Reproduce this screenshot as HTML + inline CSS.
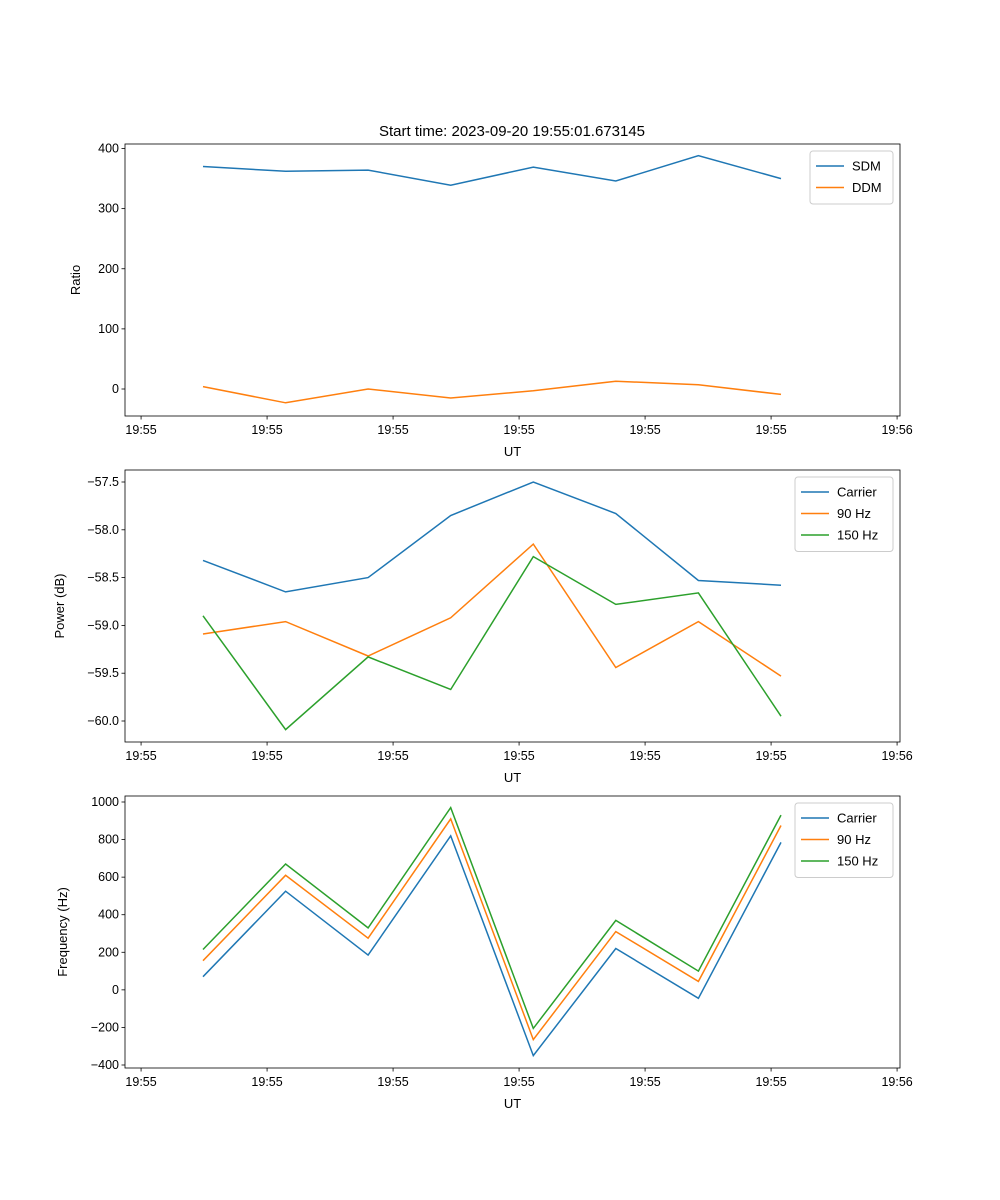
<!DOCTYPE html>
<html><head><meta charset="utf-8">
<style>
body{margin:0;background:#fff;}
svg{display:block;font-family:"Liberation Sans","DejaVu Sans",sans-serif;}
</style></head>
<body>
<svg id="fig" width="1000" height="1200" viewBox="0 0 1000 1200"></svg>
<script>
const timeIdx = [0,1,2,3,4,5,6,7];
const xTicks = [-0.75,0.776,2.302,3.828,5.354,6.88,8.406];
const xTickLabels = ["19:55","19:55","19:55","19:55","19:55","19:55","19:56"];
const sdm = [370,362,364,339,369,346,388,350];
const ddm = [4,-23,0,-15,-3,13,7,-9];
const ratioTicks = [0,100,200,300,400];
const pCarrier = [-58.32,-58.65,-58.50,-57.85,-57.50,-57.83,-58.53,-58.58];
const p90 = [-59.09,-58.96,-59.32,-58.92,-58.15,-59.44,-58.96,-59.53];
const p150 = [-58.90,-60.09,-59.33,-59.67,-58.28,-58.78,-58.66,-59.95];
const powerTicks = [-60.0,-59.5,-59.0,-58.5,-58.0,-57.5];
const fCarrier = [70,525,185,820,-350,220,-45,785];
const f90 = [155,610,275,910,-265,310,45,875];
const f150 = [215,670,330,970,-205,370,100,930];
const freqTicks = [-400,-200,0,200,400,600,800,1000];

const NS="http://www.w3.org/2000/svg";
const svg=document.getElementById('fig');
function mk(tag,attrs,parent){const e=document.createElementNS(NS,tag);for(const k in attrs)e.setAttribute(k,attrs[k]);(parent||svg).appendChild(e);return e;}
const L=125,R=900;
const xS=t=>203+t*82.57;
const C1="#1f77b4",C2="#ff7f0e",C3="#2ca02c";

function panel(name,top,bottom,v0,p0,v1,p1,ticks,fmt,ylabel,series,legend){
  const g=mk('g',{});
  
  
  const yS=v=>p0+(v-v0)*(p1-p0)/(v1-v0);
  series.forEach(s=>{
    const pts=s.vals.map((v,i)=>xS(timeIdx[i]).toFixed(1)+','+yS(v).toFixed(1)).join(' ');
    const pl=mk('polyline',{points:pts,fill:'none',stroke:s.color,'stroke-width':1.5},g);
    
    
  });
  const fr=mk('rect',{x:L,y:top,width:R-L,height:bottom-top,fill:'none',stroke:'#000','stroke-width':0.8},g);
  
  
  ticks.forEach(v=>{
    const y=yS(v);
    mk('line',{x1:L-3.5,x2:L,y1:y,y2:y,stroke:'#000','stroke-width':0.8},g);
    const t=mk('text',{x:L-6,y:y+4,'text-anchor':'end','font-size':12.5},g);
    t.textContent=fmt(v);
    
    
  });
  xTicks.forEach((v,i)=>{
    const x=xS(v);
    mk('line',{x1:x,x2:x,y1:bottom,y2:bottom+3.5,stroke:'#000','stroke-width':0.8},g);
    const t=mk('text',{x:x,y:bottom+18,'text-anchor':'middle','font-size':12.5},g);
    t.textContent=xTickLabels[i];
    
    
  });
  const xl=mk('text',{x:(L+R)/2,y:bottom+40,'text-anchor':'middle','font-size':13},g);
  xl.textContent='UT';
  
  
  const cy=(top+bottom)/2;
  const yl=mk('text',{x:0,y:0,'text-anchor':'middle','font-size':13,transform:`translate(${legend.ylx},${cy}) rotate(-90)`},g);
  yl.textContent=ylabel;
  
  
  const lg=mk('g',{},g);
  
  
  const lh=10+series.length*21.5;
  mk('rect',{x:legend.x,y:top+7,width:R-7-legend.x,height:lh,rx:3,fill:'#fff',stroke:'#ccc','stroke-width':1},lg);
  series.forEach((s,i)=>{
    const yy=top+7+15+i*21.5;
    mk('line',{x1:legend.x+6,x2:legend.x+34,y1:yy,y2:yy,stroke:s.color,'stroke-width':1.5},lg);
    const t=mk('text',{x:legend.x+42,y:yy+4.5,'font-size':13},lg);
    t.textContent=s.label;
    
    
  });
}
const title=mk('text',{x:512,y:136,'text-anchor':'middle','font-size':15});
title.textContent='Start time: 2023-09-20 19:55:01.673145';


const minus=s=>s.replace('-','\u2212');
panel('ratio',144,416,400,148.5,0,389,ratioTicks,v=>minus(String(v)),'Ratio',
 [{key:'sdm',label:'SDM',color:C1,vals:sdm},{key:'ddm',label:'DDM',color:C2,vals:ddm}],{x:810,ylx:80});
panel('power',470,742,-57.5,482,-60.0,721,powerTicks,v=>minus(v.toFixed(1)),'Power (dB)',
 [{key:'carrier',label:'Carrier',color:C1,vals:pCarrier},{key:'90hz',label:'90 Hz',color:C2,vals:p90},{key:'150hz',label:'150 Hz',color:C3,vals:p150}],{x:795,ylx:64});
panel('frequency',796,1068,1000,802,-400,1065,freqTicks,v=>minus(String(v)),'Frequency (Hz)',
 [{key:'carrier',label:'Carrier',color:C1,vals:fCarrier},{key:'90hz',label:'90 Hz',color:C2,vals:f90},{key:'150hz',label:'150 Hz',color:C3,vals:f150}],{x:795,ylx:67});
</script>
</body></html>
